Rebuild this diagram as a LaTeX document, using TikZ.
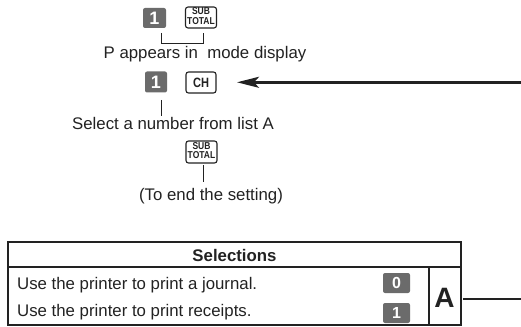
\documentclass[tikz,border=0pt]{standalone}
\usepackage{fontspec}
\usepackage{graphicx}
\setmainfont{Liberation Sans}
\usetikzlibrary{arrows.meta}
\definecolor{keygray}{HTML}{6B6B6B}
\definecolor{ink}{HTML}{222222}
\newcommand{\subtot}{\scalebox{0.85}[1]{\begin{tabular}{@{}c@{}}SUB\\TOTAL\end{tabular}}}
\tikzset{
  body/.style={font=\fontsize{16.8}{19}\selectfont, text=ink, inner sep=0pt},
  graykey/.style={fill=keygray, rounded corners=2pt, text=white, font=\bfseries\fontsize{18}{18}\selectfont, inner sep=0pt},
  outkey/.style={draw=ink, line width=1.1pt, rounded corners=2.5pt, fill=white, text=ink, inner sep=0pt, font=\bfseries\fontsize{10}{9.6}\selectfont, align=center},
  thin/.style={draw=ink, line width=0.9pt},
  tbl/.style={draw=ink, line width=1.3pt},
}
\begin{document}
\begin{tikzpicture}[x=1pt,y=-1pt]
\useasboundingbox (0,0) rectangle (521,326);
% top keys
\node[graykey, minimum width=23pt, minimum height=20pt] (k1) at (154.5,18) {1};
\node[outkey, minimum width=31pt, minimum height=21pt] (st1) at (201,17.5) {\subtot};
\coordinate (b1) at (161,33);
\coordinate (b2) at (203,33);
\draw[thin] (b1) -- ++(0,10) -| (b2);
\node[body, anchor=base] (t1) at (205,58.5) {P appears in \ mode display};
% second row
\node[graykey, minimum width=22pt, minimum height=21pt] (k2) at (156,82) {1};
\node[outkey, minimum width=30pt, minimum height=21pt, font=\bfseries\fontsize{13.5}{13.5}\selectfont] (ch) at (201,82.5) {\scalebox{0.82}[1]{CH}};
\coordinate (l1a) at (161,100);
\coordinate (l1b) at (161,116);
\draw[thin] (l1a) -- (l1b);
\node[body, anchor=base] (t2) at (173,129.5) {Select a number from list A};
% third
\node[outkey, minimum width=31pt, minimum height=22pt] (st2) at (201.5,152) {\subtot};
\coordinate (l2a) at (203,165);
\coordinate (l2b) at (203,182);
\draw[thin] (l2a) -- (l2b);
\node[body, anchor=base] (t3) at (211,200.5) {(To end the setting)};
% arrow
\coordinate (ae) at (521,82.3);
\coordinate (at) at (237,82.3);
\draw[draw=ink, line width=2.6pt, -{Stealth[length=22pt, width=11pt, inset=5pt]}] (ae) -- (at);
% table
\node[body, anchor=base, font=\bfseries\fontsize{16.8}{19}\selectfont] (sel) at (234.5,261.5) {Selections};
\draw[tbl] (8,242) rectangle (461,325);
\draw[draw=ink, line width=1.8pt] (8,267) -- (461,267);
\draw[tbl] (429,267) -- (429,325);
\node[body, anchor=base west] (r1) at (17,289) {Use the printer to print a journal.};
\node[body, anchor=base west] (r2) at (17,316) {Use the printer to print receipts.};
\node[graykey, minimum width=27pt, minimum height=20pt, font=\bfseries\fontsize{16}{16}\selectfont] (z0) at (396.5,283) {0};
\node[graykey, minimum width=27pt, minimum height=20pt, font=\bfseries\fontsize{16}{16}\selectfont] (z1) at (396.5,313) {1};
\node[body, font=\bfseries\fontsize{28}{28}\selectfont] (A) at (444.5,298) {A};
\coordinate (ae2) at (521,299);
\draw[draw=ink, line width=2.2pt] (463,299) -- (ae2);
\end{tikzpicture}
\end{document}
